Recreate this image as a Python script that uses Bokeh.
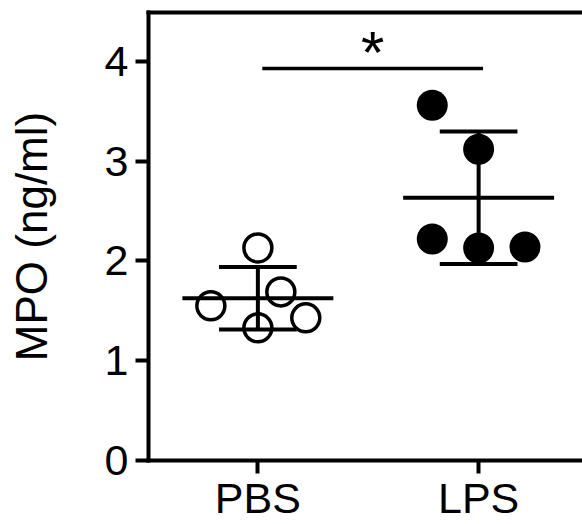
import numpy as np
from bokeh.plotting import figure
from bokeh.models import LinearAxis, FixedTicker, Range1d
from bokeh.core.properties import value
from bokeh.embed import file_html
from bokeh.resources import INLINE

# ---- data ----
groups = ["PBS", "LPS"]
group_pos = [1, 2]
pbs_x = [1.00, 0.787, 1.104, 1.217, 1.00]
pbs_y = [2.13, 1.55, 1.69, 1.43, 1.33]
lps_x = [1.79, 2.00, 1.79, 2.00, 2.21]
lps_y = [3.56, 3.12, 2.22, 2.13, 2.14]
y_ticks = [0, 1, 2, 3, 4]
y_title = "MPO (ng/ml)"
sig_pair = [1.02, 2.02]
sig_y = 3.93
sig_text = "*"

means = [float(np.mean(pbs_y)), float(np.mean(lps_y))]
sds = [float(np.std(pbs_y, ddof=1)), float(np.std(lps_y, ddof=1))]

FONT = "Liberation Sans"
MEAN_HALF = 0.342
CAP_HALF = 0.176
LW = 4

p = figure(width=582, height=524,
           x_range=Range1d(0.5045, 2.4706), y_range=Range1d(0, 4.49),
           output_backend="svg", toolbar_location=None,
           min_border_left=148, min_border_right=0,
           min_border_top=12, min_border_bottom=63)
p.grid.visible = False
p.outline_line_color = None
p.background_fill_color = "white"
p.border_fill_color = "white"

for ax in (p.xaxis[0], p.yaxis[0]):
    ax.axis_line_width = LW
    ax.axis_line_color = "black"
    ax.axis_line_cap = "square"
    ax.major_tick_line_width = LW
    ax.major_tick_line_color = "black"
    ax.major_tick_out = 13
    ax.major_tick_in = 0
    ax.minor_tick_line_color = None
    ax.major_label_text_font = FONT
    ax.major_label_text_font_size = "43px"
    ax.major_label_text_color = "black"

p.xaxis[0].major_label_standoff = 0
p.yaxis[0].major_label_standoff = 7
p.xaxis[0].ticker = FixedTicker(ticks=group_pos)
p.xaxis[0].major_label_overrides = {pos: g for pos, g in zip(group_pos, groups)}
p.yaxis[0].ticker = FixedTicker(ticks=y_ticks)
p.yaxis[0].axis_label = y_title
p.yaxis[0].axis_label_text_font = FONT
p.yaxis[0].axis_label_text_font_size = "44px"
p.yaxis[0].axis_label_text_font_style = "normal"
p.yaxis[0].axis_label_text_color = "black"
p.yaxis[0].axis_label_standoff = 46

top = LinearAxis(ticker=FixedTicker(ticks=[]), axis_line_width=LW,
                 axis_line_color="black", axis_line_cap="square",
                 major_tick_out=0, major_tick_in=0,
                 minor_tick_out=0, minor_tick_in=0,
                 major_label_text_font_size="0px", major_label_standoff=0)
p.add_layout(top, "above")

gp = np.array(group_pos, dtype=float)
m = np.array(means)
s = np.array(sds)

# mean lines
p.segment(x0=gp - MEAN_HALF, x1=gp + MEAN_HALF, y0=m, y1=m,
          line_color="black", line_width=LW)
# SD vertical
p.segment(x0=gp, x1=gp, y0=m - s, y1=m + s, line_color="black", line_width=LW)
# caps
p.segment(x0=gp - CAP_HALF, x1=gp + CAP_HALF, y0=m + s, y1=m + s,
          line_color="black", line_width=LW)
p.segment(x0=gp - CAP_HALF, x1=gp + CAP_HALF, y0=m - s, y1=m - s,
          line_color="black", line_width=LW)

# points
p.scatter(pbs_x, pbs_y, marker="circle", size=28, fill_color=None,
          line_color="black", line_width=3.5)
p.scatter(lps_x, lps_y, marker="circle", size=31, fill_color="black",
          line_color=None)

# significance
p.segment(x0=[sig_pair[0]], x1=[sig_pair[1]], y0=[sig_y], y1=[sig_y],
          line_color="black", line_width=3.5)
p.text(x=[sum(sig_pair) / 2], y=[4.09], text=[sig_text],
       text_font=value(FONT), text_font_size="60px", text_align="center",
       text_baseline="alphabetic", text_color="black")

open("out.html", "w").write(file_html(p, INLINE))
